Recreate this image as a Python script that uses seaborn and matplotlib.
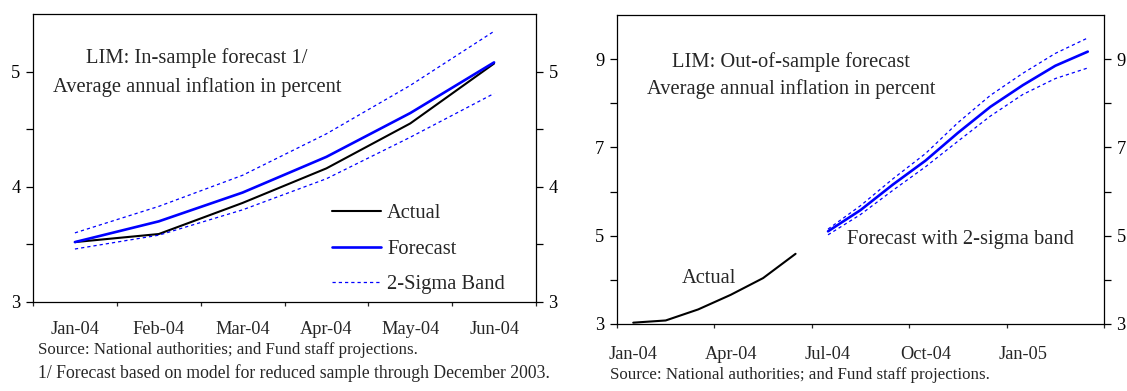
import numpy as np
import pandas as pd
import matplotlib
matplotlib.use("Agg")
import matplotlib.pyplot as plt
import seaborn as sns

# ---- In-sample panel (Jan-Jun 2004) ----
in_months = ["Jan-04", "Feb-04", "Mar-04", "Apr-04", "May-04", "Jun-04"]
in_actual = [3.52, 3.59, 3.86, 4.16, 4.55, 5.07]
in_forecast = [3.52, 3.70, 3.95, 4.26, 4.64, 5.08]
in_upper = [3.60, 3.83, 4.10, 4.46, 4.88, 5.35]
in_lower = [3.46, 3.58, 3.80, 4.07, 4.43, 4.81]

# ---- Out-of-sample panel (Jan-04 to Mar-05) ----
out_months = ["Jan-04", "Feb-04", "Mar-04", "Apr-04", "May-04", "Jun-04",
              "Jul-04", "Aug-04", "Sep-04", "Oct-04", "Nov-04", "Dec-04",
              "Jan-05", "Feb-05", "Mar-05"]
out_actual_months = out_months[:6]
out_actual = [3.03, 3.08, 3.33, 3.66, 4.04, 4.59]
out_fc_months = out_months[6:]
out_forecast = [5.10, 5.58, 6.16, 6.70, 7.33, 7.92, 8.41, 8.85, 9.17]
out_upper = [5.15, 5.68, 6.29, 6.86, 7.56, 8.18, 8.68, 9.13, 9.48]
out_lower = [5.02, 5.48, 6.03, 6.56, 7.14, 7.71, 8.20, 8.56, 8.80]

sns.set_style("ticks")
plt.rcParams["font.family"] = ["Liberation Serif", "DejaVu Serif"]
plt.rcParams["axes.linewidth"] = 0.9

BLUE = "#0000FF"
DOT = (0, (2.6, 2.4))

W, H = 1127, 391
fig = plt.figure(figsize=(W / 100, H / 100), dpi=100)
fig.patch.set_facecolor("white")

ax1 = fig.add_axes([33 / W, 1 - 302 / H, 503 / W, 288 / H])
ax2 = fig.add_axes([617 / W, 1 - 324 / H, 487 / W, 309 / H])

# ---------- left panel ----------
pos_in = {m: i for i, m in enumerate(in_months)}
df_in = pd.DataFrame({
    "x": [pos_in[m] for m in in_months],
    "actual": in_actual,
    "forecast": in_forecast,
    "upper": in_upper,
    "lower": in_lower,
})
sns.lineplot(data=df_in, x="x", y="actual", ax=ax1, color="black", lw=1.5,
             label="Actual")
sns.lineplot(data=df_in, x="x", y="forecast", ax=ax1, color=BLUE, lw=1.9,
             label="Forecast")
sns.lineplot(data=df_in, x="x", y="upper", ax=ax1, color=BLUE, lw=0.9,
             linestyle=DOT, label="2-Sigma Band")
sns.lineplot(data=df_in, x="x", y="lower", ax=ax1, color=BLUE, lw=0.9,
             linestyle=DOT, legend=False)

ax1.set_xlim(-0.5, len(in_months) - 0.5)
ax1.set_ylim(3, 5.5)
ax1.set_xticks(np.arange(-0.5, len(in_months), 1.0))
ax1.set_xticklabels([])
ax1.set_xticks(np.arange(len(in_months)), minor=True)
ax1.set_xticklabels(in_months, minor=True)
ax1.set_yticks([3, 3.5, 4, 4.5, 5])
ax1.set_yticklabels(["3", "", "4", "", "5"])

leg = ax1.legend(loc="center left", bbox_to_anchor=(0.594, 0.184),
                 frameon=False, fontsize=14.8, handlelength=2.4,
                 handletextpad=0.3, labelspacing=0.77, borderpad=0,
                 borderaxespad=0)

ax1.text(0.326, 0.848, "LIM: In-sample forecast 1/", transform=ax1.transAxes,
         ha="center", va="center", fontsize=14.8)
ax1.text(0.326, 0.748, "Average annual inflation in percent",
         transform=ax1.transAxes, ha="center", va="center", fontsize=14.8)

# ---------- right panel ----------
pos_out = {m: i for i, m in enumerate(out_months)}
df_act = pd.DataFrame({"x": [pos_out[m] for m in out_actual_months],
                       "y": out_actual})
df_fc = pd.DataFrame({"x": [pos_out[m] for m in out_fc_months],
                      "forecast": out_forecast,
                      "upper": out_upper,
                      "lower": out_lower})
sns.lineplot(data=df_act, x="x", y="y", ax=ax2, color="black", lw=1.5)
sns.lineplot(data=df_fc, x="x", y="forecast", ax=ax2, color=BLUE, lw=1.9)
sns.lineplot(data=df_fc, x="x", y="upper", ax=ax2, color=BLUE, lw=0.9,
             linestyle=DOT)
sns.lineplot(data=df_fc, x="x", y="lower", ax=ax2, color=BLUE, lw=0.9,
             linestyle=DOT)

ax2.set_xlim(-0.5, len(out_months) - 0.5)
ax2.set_ylim(3, 10)
ax2.set_xticks(np.arange(-0.5, len(out_months), 3.0))
ax2.set_xticklabels([])
label_idx = list(range(0, len(out_months), 3))
ax2.set_xticks(label_idx, minor=True)
ax2.set_xticklabels([out_months[i] for i in label_idx], minor=True)
ax2.set_yticks(range(3, 10))
ax2.set_yticklabels([str(v) if v % 2 == 1 else "" for v in range(3, 10)])

ax2.text(0.357, 0.848, "LIM: Out-of-sample forecast", transform=ax2.transAxes,
         ha="center", va="center", fontsize=14.8)
ax2.text(0.357, 0.761, "Average annual inflation in percent",
         transform=ax2.transAxes, ha="center", va="center", fontsize=14.8)
ax2.text(0.472, 0.272, "Forecast with 2-sigma band", transform=ax2.transAxes,
         ha="left", va="center", fontsize=14.8)
ax2.text(0.133, 0.146, "Actual", transform=ax2.transAxes,
         ha="left", va="center", fontsize=14.8)

# ---------- shared axis styling ----------
for ax, xpad in ((ax1, 14), (ax2, 16)):
    ax.set_xlabel("")
    ax.set_ylabel("")
    for s in ax.spines.values():
        s.set_visible(True)
        s.set_color("black")
    ax.tick_params(axis="y", which="both", left=True, right=True,
                   labelleft=True, labelright=True, direction="out",
                   length=5, width=0.9, pad=4, labelsize=13.2, colors="black")
    ax.tick_params(axis="x", which="major", bottom=True, direction="out",
                   length=3, width=0.9)
    ax.tick_params(axis="x", which="minor", bottom=True, length=0,
                   pad=xpad, labelsize=13.2)

# ---------- source notes ----------
fig.text(38 / W, 1 - 350 / H,
         "Source: National authorities; and Fund staff projections.",
         ha="left", va="center", fontsize=12.2)
fig.text(38 / W, 1 - 373 / H,
         "1/ Forecast based on model for reduced sample through December 2003.",
         ha="left", va="center", fontsize=12.7)
fig.text(610 / W, 1 - 375 / H,
         "Source: National authorities; and Fund staff projections.",
         ha="left", va="center", fontsize=12.2)

fig.savefig("out.png", dpi=100, facecolor="white")
